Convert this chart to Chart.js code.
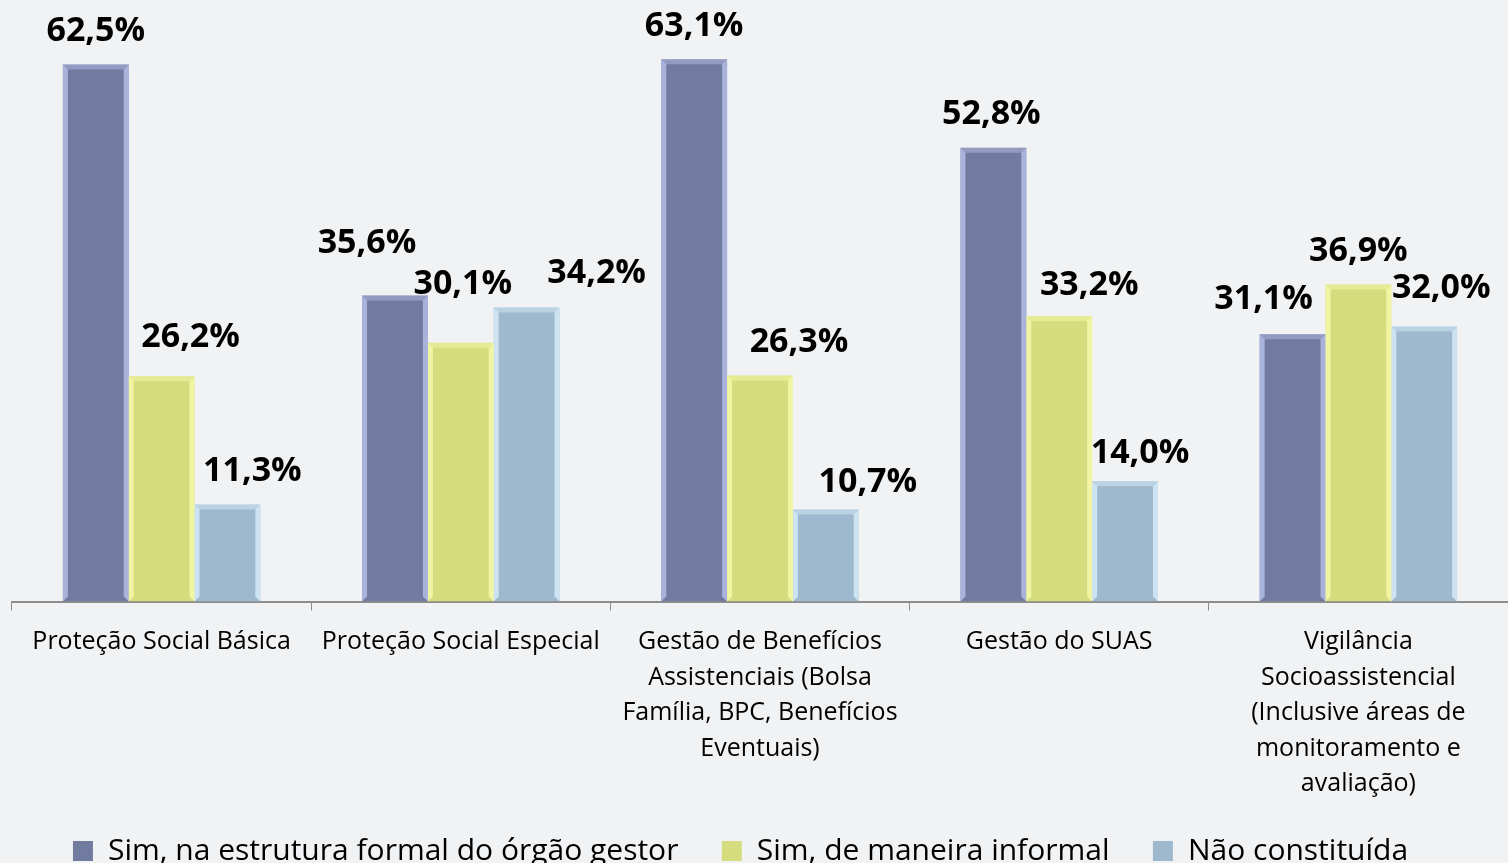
<!DOCTYPE html>
<html>
<head>
<meta charset="utf-8">
<script src="https://cdn.jsdelivr.net/npm/chart.js@4"></script>
<style>
  html, body { margin: 0; padding: 0; background: #f1f2f4; }
  #wrap { width: 1508px; height: 863px; }
</style>
</head>
<body>
<div id="wrap"><canvas id="grafico"></canvas></div>
<script>
const categorias = [
    'Proteção Social Básica',
    'Proteção Social Especial',
    ['Gestão de Benefícios', 'Assistenciais (Bolsa', 'Família, BPC, Benefícios', 'Eventuais)'],
    'Gestão do SUAS',
    ['Vigilância', 'Socioassistencial', '(Inclusive áreas de', 'monitoramento e', 'avaliação)']
];
const series = ['Sim, na estrutura formal do órgão gestor', 'Sim, de maneira informal', 'Não constituída'];
const formal    = [62.5, 35.6, 63.1, 52.8, 31.1];
const informal  = [26.2, 30.1, 26.3, 33.2, 36.9];
const naoConst  = [11.3, 34.2, 10.7, 14.0, 32.0];

// cores: preenchimento e brilho do chanfro
const cores  = ['#717ba0', '#d5dc7e', '#9eb9cd'];
const brilho = ['#bcc4ee', '#f8fcb0', '#dcf2fc'];

// deslocamento manual dos rótulos (px), como no original
const rotuloDx = [[0, -28, 0, -2, -29], [29, 2, 39, 30, 0], [25, 70, 42, 15, 17]];
const rotuloDy = [[0, 19, 0, 0, 2], [6, 26, 0, -2, 0], [0, 1, -6, -5, 5]];

// espaços extras no fim do texto da legenda (afastamento entre itens)
const legendaSobra = ['   ', '   ', '     '];

const chanfro = {
    id: 'chanfro',
    afterDatasetsDraw(chart) {
        const ctx = chart.ctx;
        chart.data.datasets.forEach((ds, i) => {
            chart.getDatasetMeta(i).data.forEach((bar) => {
                const l = bar.x - bar.width / 2, r = bar.x + bar.width / 2;
                const t = bar.y, b = bar.base, e = 5;
                ctx.save();
                ctx.fillStyle = brilho[i];
                ctx.globalAlpha = 0.75;
                // lateral esquerda
                ctx.beginPath();
                ctx.moveTo(l, t); ctx.lineTo(l + e, t + e); ctx.lineTo(l + e, b - e); ctx.lineTo(l, b);
                ctx.closePath(); ctx.fill();
                // lateral direita
                ctx.beginPath();
                ctx.moveTo(r, t); ctx.lineTo(r - e, t + e); ctx.lineTo(r - e, b - e); ctx.lineTo(r, b);
                ctx.closePath(); ctx.fill();
                // topo
                ctx.globalAlpha = 0.45;
                ctx.beginPath();
                ctx.moveTo(l, t); ctx.lineTo(r, t); ctx.lineTo(r - e, t + e); ctx.lineTo(l + e, t + e);
                ctx.closePath(); ctx.fill();
                ctx.restore();
            });
        });
    }
};

const rotulos = {
    id: 'rotulos',
    afterDatasetsDraw(chart) {
        const ctx = chart.ctx;
        ctx.save();
        ctx.font = 'bold 34px "Open Sans"';
        ctx.fillStyle = '#000';
        ctx.textAlign = 'center';
        ctx.textBaseline = 'middle';
        chart.data.datasets.forEach((ds, i) => {
            chart.getDatasetMeta(i).data.forEach((bar, j) => {
                const txt = ds.data[j].toFixed(1).replace('.', ',') + '%';
                ctx.fillText(txt, bar.x + rotuloDx[i][j], bar.y - 33 - rotuloDy[i][j]);
            });
        });
        ctx.restore();
    }
};

const grafico = document.querySelector('#grafico').getContext('2d');

new Chart(grafico, {
    type: 'bar',
    data: {
        labels: categorias,
        datasets: [
            { label: series[0], data: formal,   backgroundColor: cores[0], borderWidth: 0 },
            { label: series[1], data: informal, backgroundColor: cores[1], borderWidth: 0 },
            { label: series[2], data: naoConst, backgroundColor: cores[2], borderWidth: 0 }
        ]
    },
    options: {
        responsive: true,
        maintainAspectRatio: false,
        animation: false,
        layout: { padding: { left: 12, right: 0, top: 0, bottom: -13 } },
        datasets: { bar: { categoryPercentage: 0.66, barPercentage: 1 } },
        scales: {
            x: {
                grid: { display: true, drawOnChartArea: false, offset: true, tickLength: 9, color: '#8c8c8c' },
                border: { color: '#8c8c8c', width: 2 },
                ticks: {
                    color: '#000',
                    font: { family: 'Open Sans', size: 25, lineHeight: 1.42 },
                    maxRotation: 0,
                    autoSkip: false,
                    padding: 14
                }
            },
            y: { display: false, min: 0, max: 70 }
        },
        plugins: {
            legend: {
                position: 'bottom',
                labels: {
                    color: '#000',
                    font: { family: 'Open Sans', size: 30 },
                    boxWidth: 20,
                    boxHeight: 20,
                    padding: 20,
                    generateLabels(chart) {
                        const itens = Chart.defaults.plugins.legend.labels.generateLabels(chart);
                        itens.forEach((it, i) => { it.text = it.text + legendaSobra[i]; });
                        return itens;
                    }
                }
            },
            tooltip: { enabled: false }
        }
    },
    plugins: [chanfro, rotulos]
});
</script>
</body>
</html>
